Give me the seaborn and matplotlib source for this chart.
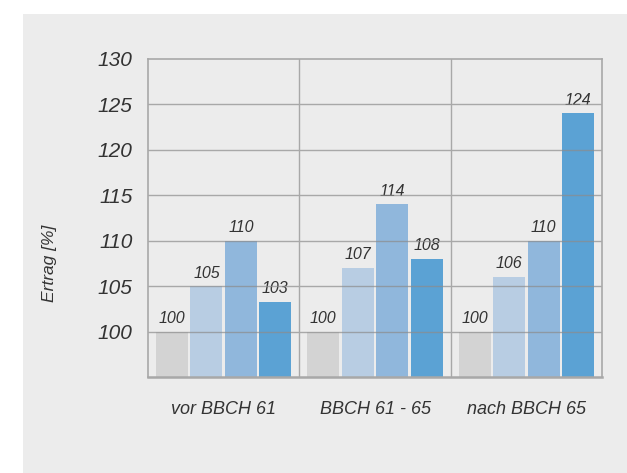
import matplotlib
matplotlib.use("Agg")
import matplotlib.pyplot as plt
import seaborn as sns
import pandas as pd
from matplotlib.patches import Rectangle

# data
groups = ["vor BBCH 61", "BBCH 61 - 65", "nach BBCH 65"]
series = ["Kontrolle", "Variante 1", "Variante 2", "Variante 3"]
ertrag = {
    "Kontrolle": [100, 100, 100],
    "Variante 1": [105, 107, 106],
    "Variante 2": [110, 114, 110],
    "Variante 3": [103.3, 108, 124],
}
shown = {
    "Kontrolle": [100, 100, 100],
    "Variante 1": [105, 107, 106],
    "Variante 2": [110, 114, 110],
    "Variante 3": [103, 108, 124],
}
colors = ["#d3d3d3", "#b8cde3", "#90b7dc", "#5ba2d4"]
yticks = [100, 105, 110, 115, 120, 125, 130]

rows = []
for s in series:
    for g, v in zip(groups, ertrag[s]):
        rows.append({"Zeitpunkt": g, "Variante": s, "Ertrag": v})
df = pd.DataFrame(rows)

sns.set_theme(style="white")
plt.rcParams["font.family"] = ["Liberation Sans", "DejaVu Sans"]

fig = plt.figure(figsize=(6.27, 4.73), dpi=100)
fig.patches.append(Rectangle((23 / 627, 0), 1, 1 - 14 / 473, transform=fig.transFigure,
                             facecolor="#ececec", edgecolor="none", zorder=-10))
ax = fig.add_axes([148 / 627, 1 - 377 / 473, 454 / 627, (377 - 58.7) / 473])
ax.set_facecolor("#ececec")

sns.barplot(data=df, x="Zeitpunkt", y="Ertrag", hue="Variante", order=groups,
            hue_order=series, palette=colors, width=0.91, gap=0.07,
            legend=False, ax=ax, saturation=1, linewidth=0)

for cont, s in zip(ax.containers, series):
    ax.bar_label(cont, labels=[str(v) for v in shown[s]], padding=4,
                 fontsize=11.5, fontstyle="italic", color="#333333")

ax.set_ylim(95, 130)
ax.set_xlim(-0.5, 2.5)
ax.set_yticks(yticks)
ax.set_yticklabels([str(t) for t in yticks], fontsize=15, fontstyle="italic", color="#333333")
ax.set_xticks(range(len(groups)))
ax.set_xticklabels(groups, fontsize=13, fontstyle="italic", color="#333333")
ax.tick_params(axis="y", length=0, pad=11)
ax.tick_params(axis="x", length=0, pad=17)
ax.set_xlabel("")
ax.set_ylabel("Ertrag [%]", fontsize=12.5, fontstyle="italic", color="#333333")
ax.yaxis.set_label_coords(-0.20, 0.358)

for t in yticks[:-1]:
    ax.axhline(t, color="#8c8c8c", lw=1, alpha=0.7, zorder=3)
for x in [0.5, 1.5]:
    ax.axvline(x, color="#a8a8a8", lw=1, zorder=3)
for sp in ax.spines.values():
    sp.set_color("#a8a8a8")
    sp.set_linewidth(1.2)
    sp.set_zorder(4)
ax.spines["bottom"].set_linewidth(1.8)

fig.savefig("out.png", dpi=100)
